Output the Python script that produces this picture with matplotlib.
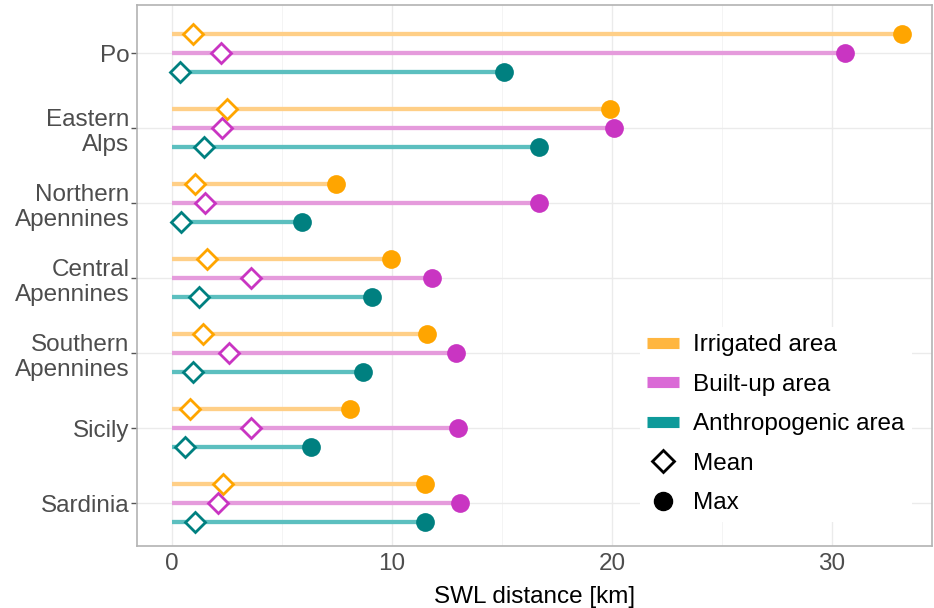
import matplotlib.pyplot as plt
from matplotlib.lines import Line2D
import numpy as np

plt.rcParams['font.family'] = ['Liberation Sans', 'DejaVu Sans']

regions = ["Po", "Eastern\nAlps", "Northern\nApennines", "Central\nApennines",
           "Southern\nApennines", "Sicily", "Sardinia"]

irr_max = [33.2, 19.9, 7.45, 9.95, 11.6, 8.1, 11.5]
irr_mean = [0.95, 2.5, 1.05, 1.6, 1.4, 0.8, 2.3]
built_max = [30.6, 20.1, 16.7, 11.8, 12.9, 13.0, 13.1]
built_mean = [2.2, 2.27, 1.5, 3.6, 2.6, 3.6, 2.1]
anth_max = [15.1, 16.7, 5.9, 9.1, 8.7, 6.3, 11.5]
anth_mean = [0.36, 1.45, 0.4, 1.23, 0.95, 0.6, 1.05]

series = [
    ("Irrigated area", irr_max, irr_mean, "#FFA500", "#FFCF87", "#FFB640", -0.253),
    ("Built-up area", built_max, built_mean, "#C935C2", "#E59BDC", "#DA6AD6", 0.0),
    ("Anthropogenic area", anth_max, anth_mean, "#008080", "#5CBFBF", "#0E9A9A", 0.253),
]

fs = 17.5
fig = plt.figure(figsize=(9.34, 6.08), dpi=100)
ax = fig.add_axes([0.1467, 0.102, 0.851, 0.8898])

y = np.arange(len(regions))
for name, mx, mn, mcol, lcol, lgcol, off in series:
    yy = y + off
    ax.hlines(yy, 0, mx, color=lcol, lw=3.1, zorder=2)
    ax.plot(mx, yy, 'o', color=mcol, ms=13.5, mew=0, zorder=3)
    ax.plot(mn, yy, 'D', mfc='white', mec=mcol, ms=10.5, mew=2, zorder=4)

ax.set_xlim(-1.6, 34.55)
ax.set_ylim(len(regions) - 0.43, -0.64)
ax.set_yticks(y)
ax.set_yticklabels(regions, fontsize=fs, color='#4D4D4D', linespacing=1.2)
ax.set_xticks([0, 10, 20, 30])
ax.set_xticks([5, 15, 25], minor=True)
ax.tick_params(axis='x', labelsize=fs, labelcolor='#4D4D4D', length=0, pad=5)
ax.tick_params(axis='x', which='minor', length=0)
ax.tick_params(axis='y', length=4, color='#555555', width=1, pad=1.5)
ax.set_xlabel("SWL distance [km]", fontsize=fs, labelpad=8)

ax.grid(True, which='major', color='#EBEBEB', lw=1.0, zorder=0)
ax.grid(True, which='minor', axis='x', color='#F3F3F3', lw=0.6, zorder=0)
ax.set_axisbelow(True)
for s in ax.spines.values():
    s.set_color('#B3B3B3')
    s.set_linewidth(1.2)

handles = [Line2D([], [], color=s[5], lw=8, solid_capstyle='butt') for s in series]
handles += [Line2D([], [], marker='D', ls='', mfc='white', mec='black', ms=11, mew=2),
            Line2D([], [], marker='o', ls='', color='black', ms=13)]
labels = [s[0] for s in series] + ["Mean", "Max"]
ax.legend(handles, labels, loc='lower right', bbox_to_anchor=(0.975, 0.045),
          frameon=True, facecolor='white', edgecolor='none', framealpha=1,
          fontsize=fs, handlelength=1.3, handletextpad=0.6, labelspacing=0.72,
          borderpad=0.3, borderaxespad=0)

fig.savefig("out.png", dpi=100)
